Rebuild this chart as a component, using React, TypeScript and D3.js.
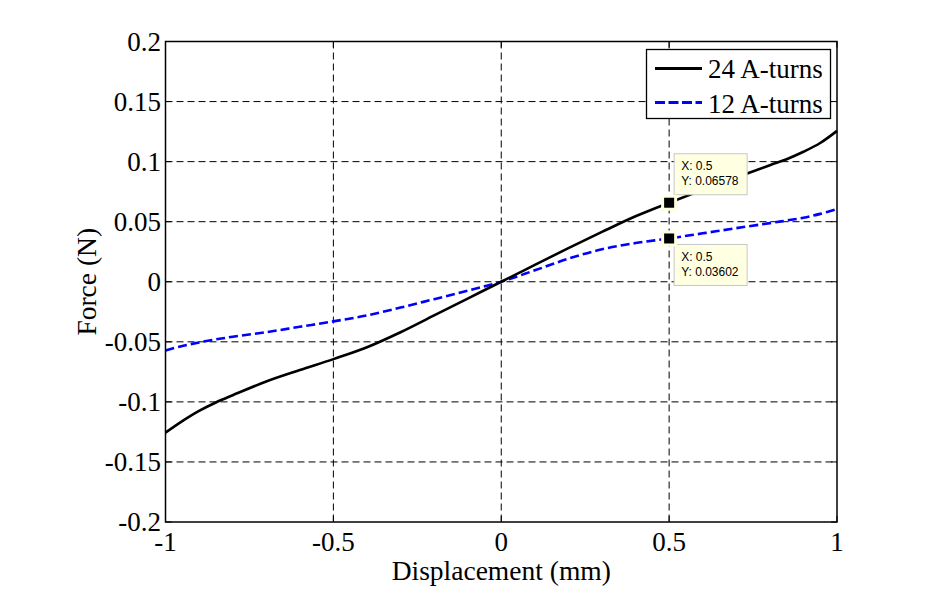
import React from "react";
import * as d3 from "d3";

const xs = [-1, -0.95, -0.9, -0.85, -0.8, -0.7, -0.6, -0.5, -0.4, -0.3, -0.2, -0.1, 0, 0.1, 0.2, 0.3, 0.4, 0.5, 0.6, 0.7, 0.8, 0.85, 0.9, 0.95, 1];
const force24 = [-0.1256, -0.116, -0.1075, -0.1005, -0.0945, -0.083, -0.0735, -0.0644, -0.0545, -0.042, -0.028, -0.014, 0, 0.014, 0.028, 0.0415, 0.0545, 0.06578, 0.0765, 0.0868, 0.097, 0.102, 0.1082, 0.1155, 0.1256];
const force12 = [-0.0572, -0.0535, -0.0505, -0.048, -0.0458, -0.042, -0.0375, -0.033, -0.028, -0.0215, -0.0145, -0.0075, 0, 0.0095, 0.0192, 0.027, 0.0322, 0.03602, 0.0403, 0.0446, 0.0488, 0.051, 0.0533, 0.0565, 0.0606];
const xTicks = [-1, -0.5, 0, 0.5, 1];
const yTicks = [-0.2, -0.15, -0.1, -0.05, 0, 0.05, 0.1, 0.15, 0.2];
const seriesNames = ["24 A-turns", "12 A-turns"];
const tipX = [0.5, 0.5];
const tipY = [0.06578, 0.03602];
const tipLabels = ["0.06578", "0.03602"];

const L = 165.5, R = 837, T = 41.5, B = 522;

export default function App() {
  const x = d3.scaleLinear().domain([-1, 1]).range([L, R]);
  const y = d3.scaleLinear().domain([-0.2, 0.2]).range([B, T]);
  const line = d3.line<number>().x((_, i) => x(xs[i])).y((d) => y(d)).curve(d3.curveCatmullRom.alpha(0.5));
  const fmt = (v: number) => (v === 0 ? "0" : String(+v.toFixed(2)));
  const serif = "'Liberation Serif', 'Times New Roman', serif";
  const sans = "'Liberation Sans', Arial, sans-serif";
  return (
    <svg width={935} height={596} style={{ position: "absolute", left: 0, top: 0, background: "#fff" }}>
      <rect x={0} y={0} width={935} height={596} fill="#fff" />
      {xTicks.slice(1, -1).map((t) => (
        <line key={"gx" + t} x1={x(t)} x2={x(t)} y1={T} y2={B} stroke="#000" strokeWidth={1} strokeDasharray="7,4" />
      ))}
      {yTicks.slice(1, -1).map((t) => (
        <line key={"gy" + t} x1={L} x2={R} y1={y(t)} y2={y(t)} stroke="#000" strokeWidth={1} strokeDasharray="7,4" />
      ))}
      {xTicks.map((t) => (
        <g key={"tx" + t}>
          <line x1={x(t)} x2={x(t)} y1={B} y2={B - 6} stroke="#000" />
          <line x1={x(t)} x2={x(t)} y1={T} y2={T + 6} stroke="#000" />
          <text x={x(t)} y={551} textAnchor="middle" fontFamily={serif} fontSize={27}>{fmt(t)}</text>
        </g>
      ))}
      {yTicks.map((t) => (
        <g key={"ty" + t}>
          <line x1={L} x2={L + 6} y1={y(t)} y2={y(t)} stroke="#000" />
          <line x1={R} x2={R - 6} y1={y(t)} y2={y(t)} stroke="#000" />
          <text x={161} y={y(t) + 9} textAnchor="end" fontFamily={serif} fontSize={27}>{fmt(t)}</text>
        </g>
      ))}
      <path d={line(force12) || ""} fill="none" stroke="#0000ff" strokeWidth={2.6} strokeDasharray="9,4" />
      <path d={line(force24) || ""} fill="none" stroke="#000" strokeWidth={2.6} />
      <rect x={L} y={T} width={R - L} height={B - T} fill="none" stroke="#000" strokeWidth={1.5} />
      <text x={(L + R) / 2} y={580} textAnchor="middle" fontFamily={serif} fontSize={27.5}>Displacement (mm)</text>
      <text transform={`translate(96,${(T + B) / 2}) rotate(-90)`} textAnchor="middle" fontFamily={serif} fontSize={27.5}>Force (N)</text>
      <rect x={646.5} y={49.5} width={184} height={69} fill="#fff" stroke="#000" strokeWidth={1.3} />
      {seriesNames.map((n, i) => (
        <g key={n}>
          <line x1={655} x2={702} y1={68.5 + i * 34} y2={68.5 + i * 34} stroke={i === 0 ? "#000" : "#0000ff"} strokeWidth={3} strokeDasharray={i === 0 ? undefined : "10,3.5"} />
          <text x={708} y={78 + i * 34.5} fontFamily={serif} fontSize={27}>{n}</text>
        </g>
      ))}
      {tipX.map((tx, i) => {
        const px = x(tx), py = y(tipY[i]);
        const by = i === 0 ? py - 49 : py + 6;
        return (
          <g key={i}>
            <rect x={px + 5} y={by} width={73} height={41} fill="#ffffe1" stroke="#c8c8c8" strokeWidth={1} />
            <text x={px + 12} y={by + 16.5} fontFamily={sans} fontSize={12}>X: {tx}</text>
            <text x={px + 12} y={by + 31.5} fontFamily={sans} fontSize={12}>Y: {tipLabels[i]}</text>
            <rect x={px - 8} y={py - 8} width={16} height={16} fill="#ffffe1" />
            <rect x={px - 5} y={py - 5} width={10} height={10} fill="#000" />
          </g>
        );
      })}
    </svg>
  );
}
